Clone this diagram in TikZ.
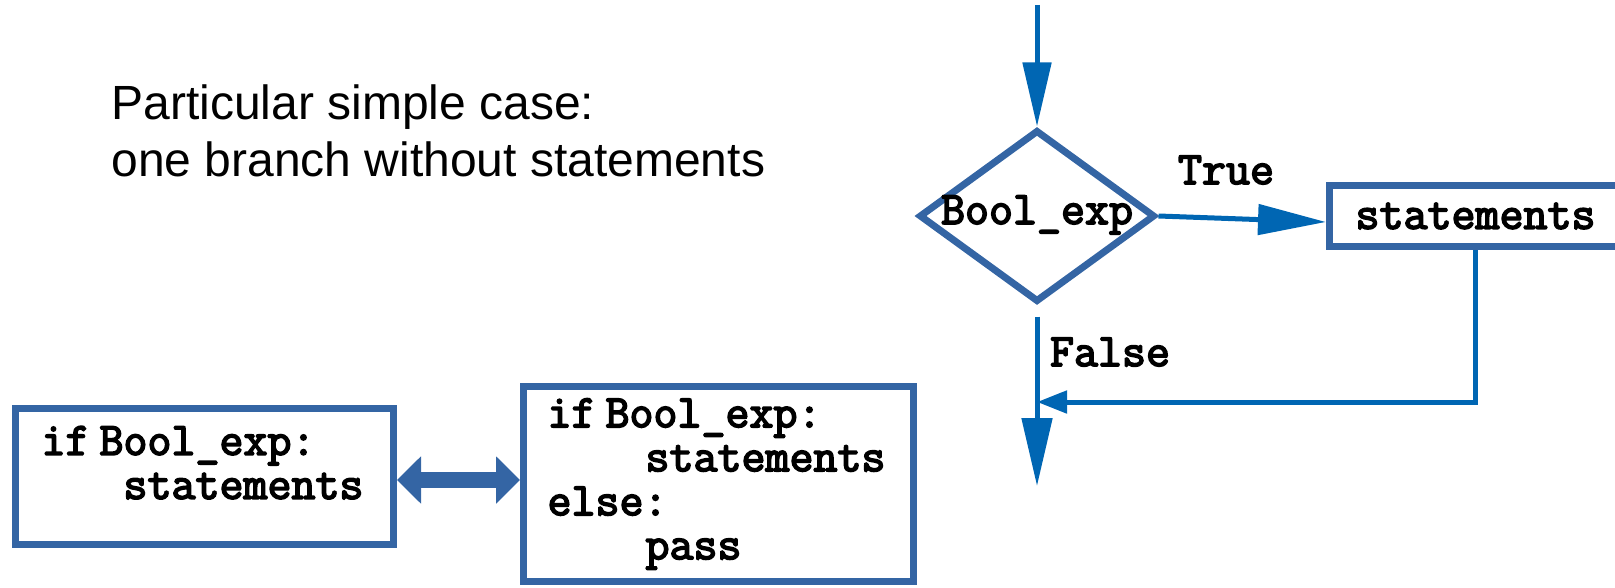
\documentclass[tikz,border=0pt]{standalone}
\usepackage{fontspec}
\setmainfont{Liberation Sans}
\setmonofont{Latin Modern Mono}[FakeBold=3.5]
\usetikzlibrary{arrows.meta, shapes.geometric}
\definecolor{boxblue}{RGB}{52,101,164}
\definecolor{flowblue}{RGB}{0,102,179}

\begin{document}
\begin{tikzpicture}[x=0.5pt, y=-0.5pt,
  every node/.style={font=\fontsize{23.3}{22}\selectfont\ttfamily},
  codebox/.style={draw=boxblue, line width=3.5pt, rectangle, align=left, inner xsep=12pt},
  flow/.style={draw=flowblue, line width=2.5pt, -{Triangle[length=32pt,width=14pt]}}]
  \useasboundingbox (0,0) rectangle (1615,588);

  % Heading
  \node[font=\fontsize{24}{28.5}\selectfont, anchor=west, align=left, inner sep=0pt] (title) at (111,131)
    {Particular simple case:\\one branch without statements};

  % Flow chart
  \node[diamond, draw=boxblue, line width=3.5pt, aspect=1.36, minimum width=118pt, minimum height=86pt,
    inner sep=0pt, text height=8pt, text depth=0pt] (test) at (1037,216) {Bool\_exp};
  \node[codebox, anchor=west, minimum height=30.5pt, inner xsep=13pt] (body) at (1326,216) {statements};
  \coordinate (entry) at (1037,5);
  \coordinate (corner) at (1475,402);
  \coordinate (merge) at (1037,402);
  \coordinate (exit) at (1037,486);

  \draw[flow] (entry) -- (test);
  \draw[flow, -{Triangle[length=34pt,width=15pt]}] (test.east) -- ([yshift=-3pt]body.west);
  \draw[flow, -{Triangle[length=15pt,width=11pt]}] (body.south -| corner) -- (corner) -- (merge);
  \draw[flow, -{Triangle[length=34pt,width=15pt]}] ([yshift=-5.5pt]test.south) -- (exit);

  \node (yes) at (1226,170) {True};
  \node (no) at (1110,352) {False};

  % Equivalent code
  \node[codebox, minimum width=189pt, minimum height=68pt, text width=163pt] (short) at (204.5,476.5)
    {if\hspace{5pt}Bool\_exp:\\\hspace*{41pt}statements\\[-8pt]\mbox{}};
  \node[codebox, minimum width=195pt, minimum height=97.5pt, text width=171pt] (full) at (718.5,484)
    {if\hspace{5pt}Bool\_exp:\\\hspace*{49pt}statements\\else:\\\hspace*{49pt}pass};
  \coordinate (gap) at (458,480);
  \draw[draw=boxblue, line width=8pt, {Triangle[length=12pt,width=23pt]}-{Triangle[length=12pt,width=23pt]}] (short.east |- gap) -- (full.west |- gap);
\end{tikzpicture}
\end{document}
